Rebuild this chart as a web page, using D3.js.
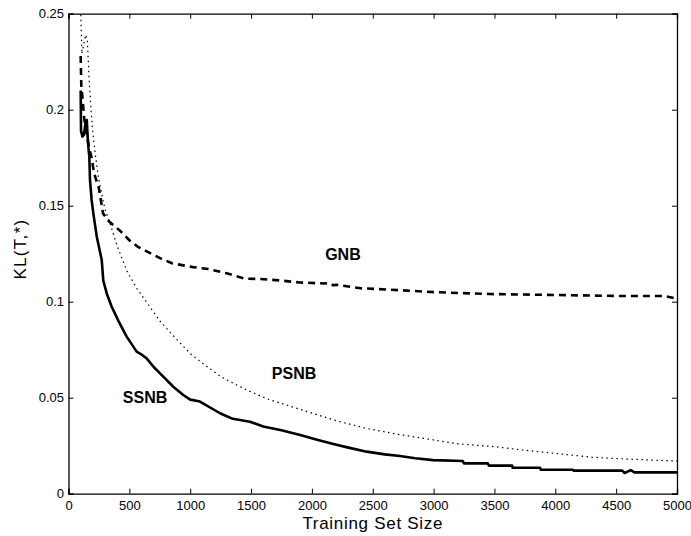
<!DOCTYPE html>
<html>
<head>
<meta charset="utf-8">
<script src="https://cdn.jsdelivr.net/npm/d3@7"></script>
<style>
  body { margin: 0; background: #fff; }
  text { font-family: "Liberation Sans", Arial, sans-serif; }
</style>
</head>
<body>
<div id="chart"></div>
<script>
// values
let xTicks = [0, 500, 1000, 1500, 2000, 2500, 3000, 3500, 4000, 4500, 5000];
let yTicks = [0, 0.05, 0.1, 0.15, 0.2, 0.25];

let gnbSize = [100, 105, 130, 170, 190, 210, 250, 284, 330, 423, 500, 571, 650, 752, 850, 1024, 1150, 1300, 1450, 1574, 1750, 1902, 2100, 2150, 2176, 2200, 2400, 2723, 3000, 3463, 4000, 4500, 4900, 5000];
let gnbKL = [0.228, 0.213, 0.195, 0.180, 0.175, 0.167, 0.159, 0.146, 0.142, 0.137, 0.132, 0.1286, 0.126, 0.1227, 0.120, 0.118, 0.117, 0.1148, 0.112, 0.1118, 0.111, 0.110, 0.1095, 0.1097, 0.1085, 0.1088, 0.107, 0.106, 0.105, 0.104, 0.1035, 0.103, 0.103, 0.1015];

let psnbSize = [100, 105, 110, 140, 155, 170, 185, 200, 220, 245, 270, 300, 340, 400, 480, 560, 650, 750, 850, 1000, 1100, 1250, 1400, 1500, 1650, 1800, 1900, 2000, 2200, 2450, 2700, 3000, 3200, 3500, 3700, 4000, 4300, 4600, 5000];
let psnbKL = [0.252, 0.241, 0.229, 0.239, 0.236, 0.215, 0.200, 0.188, 0.177, 0.165, 0.157, 0.148, 0.141, 0.129, 0.116, 0.107, 0.099, 0.090, 0.083, 0.073, 0.068, 0.061, 0.056, 0.053, 0.049, 0.046, 0.044, 0.042, 0.038, 0.034, 0.031, 0.028, 0.026, 0.0245, 0.023, 0.021, 0.019, 0.018, 0.017];

let ssnbSize = [100, 103, 115, 127, 140, 150, 160, 171, 177, 190, 204, 232, 273, 286, 314, 355, 410, 478, 560, 600, 642, 700, 752, 861, 943, 1000, 1080, 1245, 1350, 1490, 1600, 1750, 1904, 2050, 2176, 2300, 2450, 2600, 2723, 2850, 2995, 3240, 3250, 3445, 3455, 3645, 3650, 3875, 3880, 4145, 4150, 4550, 4570, 4620, 4650, 5000];
let ssnbKL = [0.210, 0.189, 0.186, 0.187, 0.193, 0.1946, 0.183, 0.1755, 0.163, 0.153, 0.146, 0.134, 0.1217, 0.111, 0.1043, 0.0974, 0.090, 0.0818, 0.074, 0.0725, 0.0705, 0.066, 0.0627, 0.0557, 0.0514, 0.049, 0.048, 0.0419, 0.039, 0.0375, 0.035, 0.033, 0.0306, 0.028, 0.0259, 0.024, 0.0219, 0.0205, 0.0196, 0.0185, 0.0175, 0.017, 0.0158, 0.0158, 0.0146, 0.0146, 0.0135, 0.0135, 0.0125, 0.0125, 0.012, 0.012, 0.0108, 0.0123, 0.0111, 0.0111];

let svgWidth = 691;
let svgHeight = 536;

let svg = d3.select('#chart')
            .append('svg')
            .attr('width', svgWidth)
            .attr('height', svgHeight);

//scales
let xScale = d3.scaleLinear().domain([0, 5000]).range([68.5, 677]);
let yScale = d3.scaleLinear().domain([0, 0.25]).range([493.7, 13.7]);

//clip so the lines stay in the box
svg.append('clipPath').attr('id', 'plotClip')
   .append('rect')
   .attr('x', xScale(0)).attr('y', yScale(0.25))
   .attr('width', xScale(5000) - xScale(0))
   .attr('height', yScale(0) - yScale(0.25));

let line = d3.line()
             .x(d => xScale(d[0]))
             .y(d => yScale(d[1]));

let lines = svg.append('g').attr('clip-path', 'url(#plotClip)');

lines.append('path')
     .attr('d', line(d3.zip(gnbSize, gnbKL)))
     .attr('fill', 'none')
     .attr('stroke', '#000')
     .attr('stroke-width', 2.6)
     .attr('stroke-dasharray', '7,5');

lines.append('path')
     .attr('d', line(d3.zip(psnbSize, psnbKL)))
     .attr('fill', 'none')
     .attr('stroke', '#000')
     .attr('stroke-width', 1.2)
     .attr('stroke-dasharray', '1.5,3.5');

lines.append('path')
     .attr('d', line(d3.zip(ssnbSize, ssnbKL)))
     .attr('fill', 'none')
     .attr('stroke', '#000')
     .attr('stroke-width', 2.6)
     .attr('stroke-linejoin', 'round');

//axes, ticks point inwards on all four sides
let fmtY = d => d === 0 ? '0' : String(+d.toFixed(2));

let axisB = svg.append('g')
   .attr('transform', `translate(0, ${yScale(0)})`)
   .call(d3.axisBottom(xScale).tickValues(xTicks).tickSize(-5).tickPadding(7).tickFormat(d3.format('d')));
let axisL = svg.append('g')
   .attr('transform', `translate(${xScale(0)}, 0)`)
   .call(d3.axisLeft(yScale).tickValues(yTicks).tickSize(-5).tickPadding(4.5).tickFormat(fmtY));
let axisT = svg.append('g')
   .attr('transform', `translate(0, ${yScale(0.25)})`)
   .call(d3.axisTop(xScale).tickValues(xTicks).tickSize(-5).tickFormat(''));
let axisR = svg.append('g')
   .attr('transform', `translate(${xScale(5000)}, 0)`)
   .call(d3.axisRight(yScale).tickValues(yTicks).tickSize(-5).tickFormat(''));

[axisB, axisL, axisT, axisR].forEach(g => {
  g.select('.domain').attr('stroke', '#000').attr('stroke-width', 1.3);
  g.selectAll('.tick line').attr('stroke', '#000').attr('stroke-width', 1);
  g.selectAll('.tick text').attr('font-size', 13).attr('fill', '#000')
   .style('font-family', '"Liberation Sans", Arial, sans-serif');
});

//curve labels
let labels = [
  { name: 'GNB', x: 2255, y: 0.1215 },
  { name: 'PSNB', x: 1853, y: 0.0597 },
  { name: 'SSNB', x: 629, y: 0.0472 }
];
svg.selectAll('.curveLabel')
   .data(labels)
   .enter()
   .append('text')
   .attr('class', 'curveLabel')
   .attr('x', d => xScale(d.x))
   .attr('y', d => yScale(d.y))
   .attr('text-anchor', 'middle')
   .attr('font-size', 16)
   .attr('font-weight', 'bold')
   .text(d => d.name);

//axis titles
svg.append('text')
   .attr('x', xScale(2500))
   .attr('y', 529)
   .attr('text-anchor', 'middle')
   .attr('font-size', 17)
   .attr('letter-spacing', 0.7)
   .text('Training Set Size');

svg.append('text')
   .attr('transform', 'translate(26, 249) rotate(-90)')
   .attr('text-anchor', 'middle')
   .attr('font-size', 17)
   .attr('letter-spacing', 1.3)
   .text('KL(T,*)');
</script>
</body>
</html>
